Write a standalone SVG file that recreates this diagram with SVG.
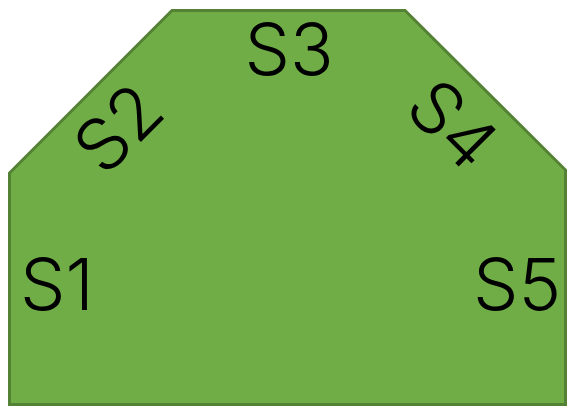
<svg xmlns="http://www.w3.org/2000/svg" width="567" height="406" viewBox="0 0 567 406">
<style>
.shape{fill:#70AD47;stroke:#548235;stroke-width:3;stroke-linejoin:miter}
.lbl{font-family:Inter,"Liberation Sans",sans-serif;font-weight:300;font-size:72px;fill:#000;text-anchor:middle}
</style>
<g id="shape">
<polygon class="shape" points="9.5,173 172,10.5 405,10.5 565.5,170 565.5,404.5 9.5,404.5"/>
</g>
<g id="labels">
<text class="lbl" x="57" y="310">S1</text>
<text class="lbl" transform="translate(118,128) rotate(-45)" x="0" y="26">S2</text>
<text class="lbl" x="289" y="75">S3</text>
<text class="lbl" transform="translate(453,124) rotate(45)" x="0" y="26">S4</text>
<text class="lbl" x="517" y="310">S5</text>
</g>
</svg>
